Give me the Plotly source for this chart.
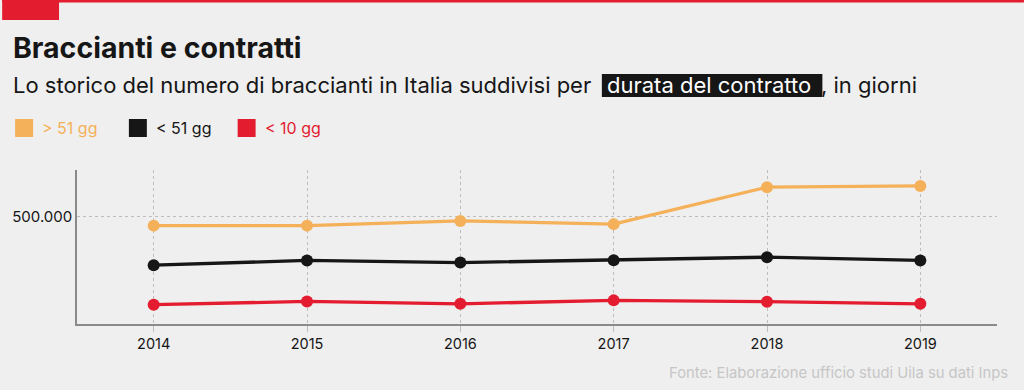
import plotly.graph_objects as go

# ---- data ----
years = [2014, 2015, 2016, 2017, 2018, 2019]
series_names = ["> 51 gg", "< 51 gg", "< 10 gg"]
over_51 = [458000, 458000, 480000, 465000, 637000, 643000]
under_51 = [274000, 296000, 286000, 297000, 311000, 296000]
under_10 = [90000, 105000, 94000, 110000, 104000, 94000]
series_values = [over_51, under_51, under_10]
series_colors = ["#f5b159", "#161616", "#e31d2f"]
y_tick_vals = [500000]
y_tick_text = ["500.000"]

title = "Braccianti e contratti"
subtitle_a = "Lo storico del numero di braccianti in Italia suddivisi per"
subtitle_hl = "durata del contratto"
subtitle_b = ", in giorni"
source = "Fonte: Elaborazione ufficio studi Uila su dati Inps"

W, H = 1024, 390
L, R, T, B = 75, 997, 170, 324
FONT = "Inter"


def px(x):
    return (x - L) / (R - L)


def py(y):
    return (B - y) / (B - T)


fig = go.Figure()
for name, vals, col in zip(series_names, series_values, series_colors):
    fig.add_trace(go.Scatter(
        x=years, y=vals, name=name, mode="lines+markers",
        line=dict(color=col, width=3.3),
        marker=dict(color=col, size=12),
        showlegend=False, cliponaxis=False, hoverinfo="skip",
    ))

shapes = [
    dict(type="rect", xref="paper", yref="paper", x0=px(0), x1=px(W), y0=py(2.5), y1=py(0),
         fillcolor="#e31d2f", line=dict(width=0), layer="above"),
    dict(type="rect", xref="paper", yref="paper", x0=px(0), x1=px(57), y0=py(20), y1=py(0),
         fillcolor="#e31d2f", line=dict(width=0), layer="above"),
    dict(type="rect", xref="paper", yref="paper", x0=px(601), x1=px(822), y0=py(97), y1=py(74),
         fillcolor="#161616", line=dict(width=0), layer="below"),
]

annotations = [
    dict(text="<b>" + title + "</b>", x=px(9), y=py(47), xref="paper", yref="paper",
         xanchor="left", yanchor="middle", showarrow=False,
         font=dict(family=FONT, size=28.5, color="#161616")),
    dict(text=subtitle_a, x=px(9), y=py(85), xref="paper", yref="paper",
         xanchor="left", yanchor="middle", showarrow=False,
         font=dict(family=FONT, size=22, color="#161616")),
    dict(text=subtitle_hl, x=px(604), y=py(85), xref="paper", yref="paper",
         xanchor="left", yanchor="middle", showarrow=False,
         font=dict(family=FONT, size=22, color="#ffffff")),
    dict(text=subtitle_b, x=px(819), y=py(85), xref="paper", yref="paper",
         xanchor="left", yanchor="middle", showarrow=False,
         font=dict(family=FONT, size=22, color="#161616")),
    dict(text=source, x=px(1010), y=py(373), xref="paper", yref="paper",
         xanchor="right", yanchor="middle", showarrow=False,
         font=dict(family=FONT, size=14.8, color="#c6c6c6")),
]

# manual legend
leg_x = [13, 127, 236]
for lx, name, col in zip(leg_x, series_names, series_colors):
    shapes.append(dict(type="rect", xref="paper", yref="paper", x0=px(lx), x1=px(lx + 18),
                       y0=py(137), y1=py(119), fillcolor=col, line=dict(width=0)))
    annotations.append(dict(text=name, x=px(lx + 25), y=py(128), xref="paper", yref="paper",
                            xanchor="left", yanchor="middle", showarrow=False,
                            font=dict(family=FONT, size=16, color=col)))

fig.update_layout(
    width=W, height=H,
    margin=dict(l=L, r=W - R, t=T, b=H - B),
    paper_bgcolor="#efefef", plot_bgcolor="#efefef",
    font=dict(family=FONT, size=13, color="#161616"),
    shapes=shapes, annotations=annotations,
    xaxis=dict(range=[2013.5, 2019.5], tickvals=years, ticktext=[str(y) for y in years],
               showgrid=True, griddash="dot", gridcolor="#bdbdbd", gridwidth=1,
               showline=True, linecolor="#8a8a8a", linewidth=1.5,
               ticks="outside", ticklen=6, tickcolor="#bdbdbd", tickwidth=1,
               tickfont=dict(family=FONT, size=14.5, color="#161616"), zeroline=False),
    yaxis=dict(range=[0, 717000], tickvals=y_tick_vals, ticktext=y_tick_text,
               showgrid=True, griddash="dot", gridcolor="#bdbdbd", gridwidth=1,
               showline=True, linecolor="#8a8a8a", linewidth=1.5, ticks="", ticklabelstandoff=0,
               tickfont=dict(family=FONT, size=15, color="#161616"), zeroline=False),
)

fig.write_html("out.html", config={"displayModeBar": False},
               post_script="document.body.style.margin='0';document.body.style.padding='0';")
